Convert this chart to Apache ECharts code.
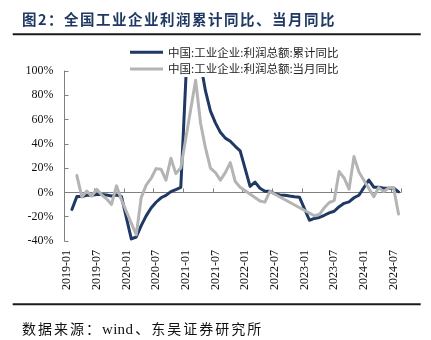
<!DOCTYPE html>
<html>
<head>
<meta charset="utf-8">
<script src="https://cdn.jsdelivr.net/npm/echarts@6/dist/echarts.min.js"></script>
<style>
html,body{margin:0;padding:0;background:#fff;}
#wrap{position:relative;width:431px;height:340px;overflow:hidden;background:#fff;}
#chart{position:absolute;left:0;top:0;width:431px;height:340px;}
#title{position:absolute;left:22px;top:11px;font:bold 14.5px "Noto Sans CJK SC",sans-serif;letter-spacing:1.5px;color:#1F3864;line-height:16px;white-space:nowrap;z-index:2;}
#foot{position:absolute;left:22px;top:320px;font:14px "Noto Sans CJK SC",sans-serif;letter-spacing:2px;color:#111;line-height:16px;white-space:nowrap;z-index:2;}
#foot .lat{font-family:"Liberation Serif","Times New Roman",serif;font-size:15px;letter-spacing:0.3px;margin-right:2px;}
</style>
</head>
<body>
<div id="wrap">
<div id="chart"></div>
<div id="title">图2：全国工业企业利润累计同比、当月同比</div>
<div id="foot">数据来源：<span class="lat">wind</span>、东吴证券研究所</div>
</div>
<script>
const months = [
 '2019-01','2019-02','2019-03','2019-04','2019-05','2019-06','2019-07','2019-08','2019-09','2019-10','2019-11','2019-12',
 '2020-01','2020-02','2020-03','2020-04','2020-05','2020-06','2020-07','2020-08','2020-09','2020-10','2020-11','2020-12',
 '2021-01','2021-02','2021-03','2021-04','2021-05','2021-06','2021-07','2021-08','2021-09','2021-10','2021-11','2021-12',
 '2022-01','2022-02','2022-03','2022-04','2022-05','2022-06','2022-07','2022-08','2022-09','2022-10','2022-11','2022-12',
 '2023-01','2023-02','2023-03','2023-04','2023-05','2023-06','2023-07','2023-08','2023-09','2023-10','2023-11','2023-12',
 '2024-01','2024-02','2024-03','2024-04','2024-05','2024-06','2024-07','2024-08'
];
const seriesNames = ['中国:工业企业:利润总额:累计同比','中国:工业企业:利润总额:当月同比'];
const cumulativeYoY = [
 null,-14.0,-3.3,-3.4,-2.3,-2.4,-1.7,-1.7,-2.1,-2.9,-2.1,-3.3,
 null,-38.3,-36.7,-27.4,-19.3,-12.8,-8.1,-4.4,-2.4,0.7,2.4,4.1,
 null,178.9,137.3,106.0,83.4,66.9,57.3,49.5,44.7,42.2,38.0,34.3,
 null,5.0,8.5,3.5,1.0,1.0,-1.1,-2.1,-2.3,-3.0,-3.6,-4.0,
 null,-22.9,-21.4,-20.6,-18.8,-16.8,-15.5,-11.7,-9.0,-7.8,-4.4,-2.3,
 null,10.2,4.3,4.3,3.4,3.5,3.6,0.5
];
const monthlyYoY = [
 null,null,13.9,-3.7,1.1,-3.1,2.6,-2.0,-5.3,-9.9,5.4,-6.0,
 null,null,-34.9,-4.3,6.0,11.5,19.6,19.1,10.1,28.2,15.5,20.1,
 null,null,92.3,57.0,36.4,20.0,16.4,10.1,16.3,24.6,9.0,4.2,
 null,null,null,-7.0,-8.0,0.8,null,null,null,null,null,null,
 null,null,-19.2,-18.2,-12.6,-8.3,-6.7,17.2,11.9,2.7,29.5,16.8,
 null,null,-3.5,4.0,0.7,3.6,4.1,-17.8
];
const yMin = -40, yMax = 100, yStep = 20;

const serif = "'Liberation Serif', 'Times New Roman', serif";
const chart = echarts.init(document.getElementById('chart'), null, {renderer:'canvas'});
const axisGray = '#808080';
chart.setOption({
  animation:false,
  backgroundColor:'#fff',
  grid:{left:64.5, top:71, width:336.5, height:170, containLabel:false, outerBoundsMode:'none'},
  legend:{
    orient:'vertical', left:128, top:44.3, padding:2, itemGap:4.7,
    backgroundColor:'#fff',
    icon:'rect', itemWidth:33, itemHeight:3,
    textStyle:{fontFamily:"'Noto Sans CJK SC', sans-serif", fontSize:11.5, color:'#222', lineHeight:12},
    data:seriesNames
  },
  xAxis:[
    {type:'category', data:months, boundaryGap:true,
     axisLine:{show:false, onZero:false}, axisTick:{show:false}, splitLine:{show:false},
     axisLabel:{interval:5, rotate:90, margin:9, fontFamily:serif, fontSize:12, color:'#111'}},
    {type:'category', data:months, boundaryGap:true, position:'bottom',
     axisLine:{show:true, onZero:true, lineStyle:{color:axisGray, width:1}},
     axisTick:{show:true, inside:true, interval:5, length:4, lineStyle:{color:axisGray}},
     axisLabel:{show:false}, splitLine:{show:false}}
  ],
  yAxis:{type:'value', min:yMin, max:yMax, interval:yStep,
    axisLine:{show:true, lineStyle:{color:axisGray, width:1}},
    axisTick:{show:true, inside:true, length:4, lineStyle:{color:axisGray}},
    splitLine:{show:false},
    axisLabel:{formatter:'{value}%', margin:11, fontFamily:serif, fontSize:12, color:'#111'}},
  graphic:[
    {type:'line', shape:{x1:12.7, y1:34.3, x2:420.7, y2:34.3}, style:{stroke:'#1a1a1a', lineWidth:2}},
    {type:'line', shape:{x1:12.7, y1:304.3, x2:420.7, y2:304.3}, style:{stroke:'#1a1a1a', lineWidth:2}}
  ],
  series:[
    {name:seriesNames[0], type:'line', xAxisIndex:0, data:cumulativeYoY, connectNulls:true,
     showSymbol:false, symbol:'none', color:'#1F3864', z:2,
     lineStyle:{width:3, color:'#1F3864', cap:'round', join:'round'}},
    {name:seriesNames[1], type:'line', xAxisIndex:0, data:monthlyYoY, connectNulls:true,
     showSymbol:false, symbol:'none', color:'#B4B4B4', z:3,
     lineStyle:{width:3, color:'#B4B4B4', cap:'round', join:'round'}}
  ]
});
</script>
</body>
</html>
